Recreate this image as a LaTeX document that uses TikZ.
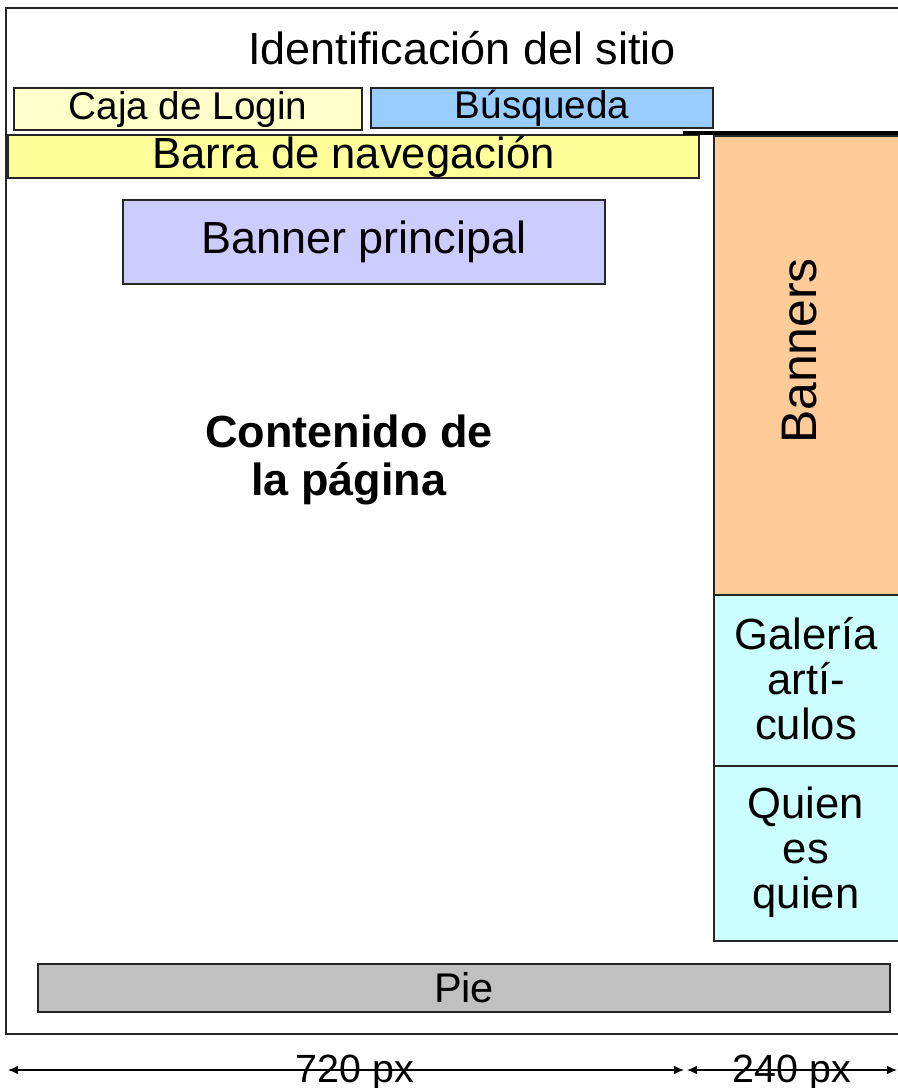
\documentclass[tikz,border=0pt]{standalone}
\usepackage{fontspec}
\setmainfont{Liberation Sans}
\usetikzlibrary{positioning,arrows.meta}
\definecolor{login}{HTML}{FFFFCC}
\definecolor{busca}{HTML}{99CCFF}
\definecolor{barra}{HTML}{FFFF99}
\definecolor{banner}{HTML}{FFCC99}
\definecolor{principal}{HTML}{CCCCFF}
\definecolor{lateral}{HTML}{CCFFFF}
\definecolor{pie}{HTML}{C0C0C0}
\def\pxu{0.025cm}
\tikzstyle{caja} = [draw=black!85, line width=1.1pt, inner sep=0pt, align=center]
\tikzstyle{cota} = [line width=0.8pt, {Latex[length=7pt,width=6pt]}-{Latex[length=7pt,width=6pt]}]

\begin{document}
\begin{tikzpicture}[x=0.025cm, y=-0.025cm]
        \useasboundingbox (0,0) rectangle (897,1088);
        \draw[line width=1.1pt, black!85] (905,8) -- (6,8) -- (6,1034) -- (905,1034);
        \node[font=\fontsize{32}{34}\selectfont] (sitio) at (462,48) {Identificación del sitio};
        \node[caja, fill=login, minimum width=348*\pxu, minimum height=42*\pxu, font=\fontsize{27.5}{30}\selectfont] (login) at (188,109) {Caja de Login};
        \node[caja, fill=busca, minimum width=342*\pxu, minimum height=40*\pxu, font=\fontsize{27.5}{30}\selectfont] (busqueda) at (542,108) {Búsqueda};
        \node[caja, fill=barra, minimum width=691*\pxu, minimum height=43*\pxu, font=\fontsize{31}{33}\selectfont] (barra) at (353.5,156.5) {Barra de navegación};
        \node[caja, fill=banner, minimum width=190*\pxu, minimum height=459*\pxu, anchor=north west] (banners) at (713,135) {};
        \node[rotate=90, font=\fontsize{35.5}{38}\selectfont] (bannerstxt) at (800,351) {Banners};
        \draw[line width=2.2pt] (683,133) -- (905,133);
        \node[caja, fill=principal, minimum width=482*\pxu, minimum height=84*\pxu, font=\fontsize{32}{34}\selectfont] (principal) at (364,242) {Banner principal};
        \node[align=center, font=\fontsize{32}{33.5}\selectfont\bfseries] (contenido) at (349,460) {Contenido de\\la página};
        \node[caja, fill=lateral, minimum width=190*\pxu, minimum height=171*\pxu, anchor=north west] (galeria) at (713,594) {};
        \node[align=center, font=\fontsize{31}{32}\selectfont] (galeriatxt) at (806,679) {Galería\\artí-\\culos};
        \node[caja, fill=lateral, minimum width=190*\pxu, minimum height=175*\pxu, anchor=north west] (quien) at (713,765) {};
        \node[align=center, font=\fontsize{31}{32}\selectfont] (quientxt) at (806,852) {Quien\\es\\quien};
        \node[caja, fill=pie, minimum width=852*\pxu, minimum height=48*\pxu, font=\fontsize{29.5}{31}\selectfont] (pie) at (464,988) {Pie};
        % cotas
        \coordinate (c0) at (8,1070);
        \coordinate (c1) at (684,1070);
        \coordinate (c2) at (687,1070);
        \coordinate (c3) at (897,1070);
        \draw[cota] (c0) -- (c1);
        \draw[cota] (c2) -- (c3);
        \node[anchor=base, font=\fontsize{28}{30}\selectfont] (ancho1) at (355,1082) {720 px};
        \node[anchor=base, font=\fontsize{28}{30}\selectfont] (ancho2) at (792,1082) {240 px};
\end{tikzpicture}
\end{document}
